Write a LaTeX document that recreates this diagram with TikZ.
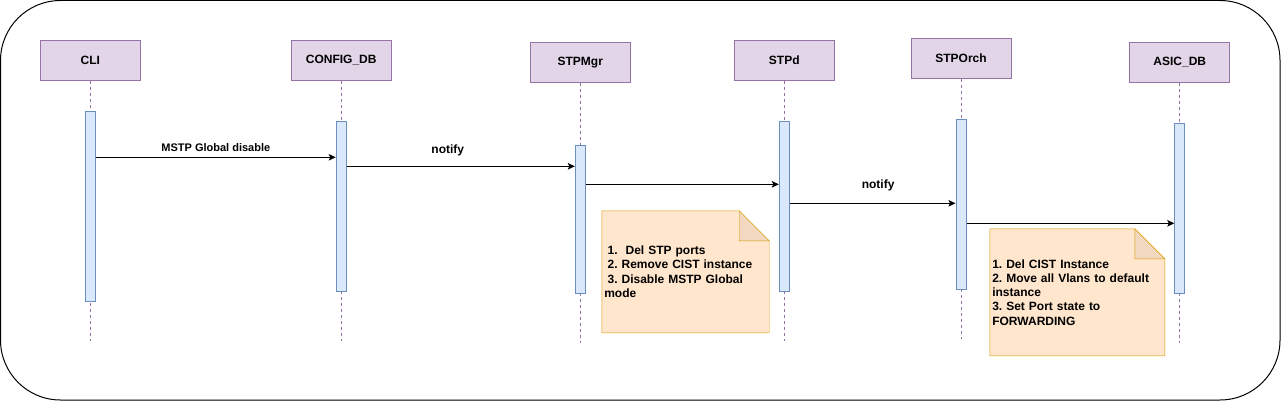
\documentclass[tikz,border=0pt]{standalone}
\usepackage{fontspec}
\setmainfont{Liberation Sans}
\usepackage{tikz}
\usetikzlibrary{positioning, arrows.meta, calc, backgrounds}
\definecolor{actorfill}{HTML}{E1D5E7}
\definecolor{actordraw}{HTML}{9673A6}
\definecolor{actfill}{HTML}{DAE8FC}
\definecolor{actdraw}{HTML}{6C8EBF}
\definecolor{notefill}{HTML}{FFE6CC}
\definecolor{notedraw}{HTML}{D79B00}
\definecolor{foldfill}{HTML}{F2D8BE}
\newcommand{\notesp}{\hspace*{3.3pt}}
\frenchspacing

\begin{document}
\begin{tikzpicture}[x=1pt, y=-1pt, line width=1pt,
	actor/.style={rectangle, draw=actordraw, fill=actorfill, minimum width=100,
		minimum height=40, font=\fontsize{12}{14.4}\selectfont\bfseries},
	act/.style={rectangle, draw=actdraw, fill=actfill, minimum width=10,
		inner sep=0, anchor=north},
	life/.style={draw=actordraw, dash pattern=on 3pt off 3pt},
	msg/.style={-{Stealth[length=7pt, width=6.5pt, inset=1.5pt]}, draw=black},
	lbl/.style={inner sep=0, font=\fontsize{12}{14.4}\selectfont\bfseries},
	note/.style={rectangle, inner xsep=2, inner ysep=0, align=left,
		font=\fontsize{12}{14.25}\selectfont\bfseries},
	notebg/.style={draw=notedraw, fill=notefill},
	fold/.style={draw=notedraw, fill=foldfill}]
	
	\useasboundingbox (0,0) rectangle (1281,401);
	\draw[rounded corners=60] (0.5,0.5) rectangle (1280,400);
	
	% Lifeline heads
	\node[actor] (cli) at (90.4,60.3) {CLI};
	\node[actor] (cfgdb) at ($(cli) + (250.8,0)$) {CONFIG\_DB};
	\node[actor] (stpmgr) at ($(cli) + (489.9,2)$) {STPMgr};
	\node[actor] (stpd) at ($(cli) + (693.9,0)$) {STPd};
	\node[actor] (stporch) at ($(cli) + (870.6,-1.8)$) {STPOrch};
	\node[actor] (asicdb) at ($(cli) + (1089.4,2)$) {ASIC\_DB};
	
	% Lifelines
	\foreach \n in {cli, cfgdb, stpmgr, stpd, stporch, asicdb}
		\draw[life] (\n.south) -- ++(0,260);
	
	% Activation bars
	\node[act, minimum height=190] (cliact) at ($(cli.south) + (0,30)$) {};
	\node[act, minimum height=170] (cfgact) at ($(cfgdb.south) + (0,40)$) {};
	\node[act, minimum height=148] (stpmgract) at ($(stpmgr.south) + (0,62)$) {};
	\node[act, minimum height=170] (stpdact) at ($(stpd.south) + (0,40)$) {};
	\node[act, minimum height=170] (stporchact) at ($(stporch.south) + (0,39.6)$) {};
	\node[act, minimum height=170] (asicact) at ($(asicdb.south) + (0,40)$) {};
	
	% Messages
	\draw[msg] (cliact.east |- 0,157.3) -- node[lbl, font=\fontsize{11}{13}\selectfont\bfseries,
		yshift=9.6pt] (disable) {MSTP Global disable} (cfgact.west |- 0,157.3);
	\draw[msg] (cfgact.east |- 0,166.3) -- node[lbl, pos=0.443, yshift=16.3pt] (notify1) {notify}
		(stpmgract.west |- 0,166.3);
	\draw[msg] (stpmgract.east |- 0,184.3) -- (stpdact.west |- 0,184.3);
	\draw[msg] (stpdact.east |- 0,203.3) -- node[lbl, pos=0.533, yshift=18.3pt] (notify2) {notify}
		(stporchact.west |- 0,203.3);
	\draw[msg] (stporchact.east |- 0,223.3) -- (asicact.west |- 0,223.3);
	
	% Notes
	\node[note, text width=162.4, minimum height=121] (note1) at (685.5,271.8)
		{\notesp 1.\ \ Del STP ports\\ \notesp 2. Remove CIST instance\\
		 \notesp 3. Disable MSTP Global\\mode};
	\node[note, text width=170, minimum height=126] (note2) at (1077.3,292.3)
		{1. Del CIST Instance\\2. Move all Vlans to default\\instance\\
		 3. Set Port state to\\FORWARDING};
	
	\begin{scope}[on background layer]
		\foreach \n in {note1, note2} {
			\draw[notebg] (\n.south west) |- ($(\n.north east) + (-30,0)$)
				-- ($(\n.north east) + (0,30)$) -- (\n.south east) -- cycle;
			\draw[fold] ($(\n.north east) + (-30,0)$) -- ($(\n.north east) + (-30,30)$)
				-- ($(\n.north east) + (0,30)$) -- cycle;
		}
	\end{scope}
\end{tikzpicture}
\end{document}
